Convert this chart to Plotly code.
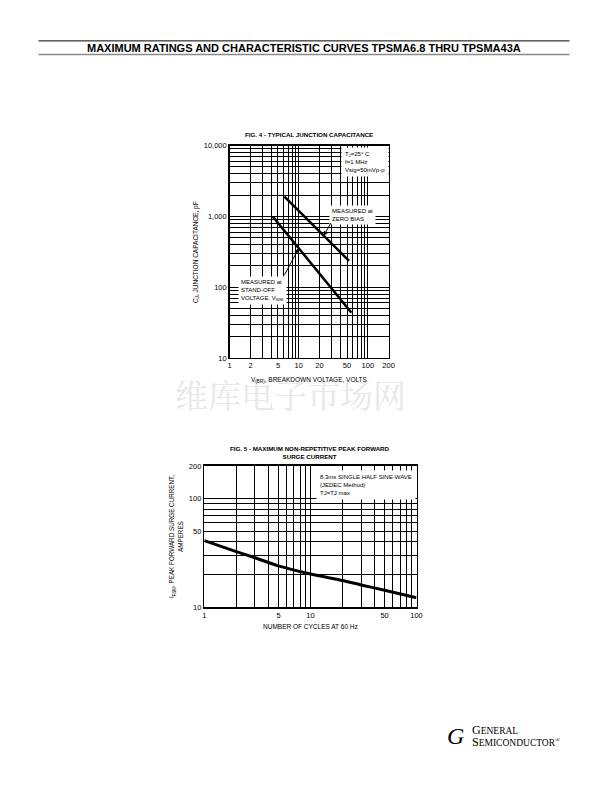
import math
import plotly.graph_objects as go

W, H = 612, 792

# ---------------- data ----------------
# Fig. 4 - typical junction capacitance (log-log)
fig4_zero_bias_v = [6.2, 53.5]
fig4_zero_bias_c = [1900, 236]
fig4_standoff_v = [4.2, 58.0]
fig4_standoff_c = [1000, 43.5]
fig4_x_ticks = [1, 2, 5, 10, 20, 50, 100, 200]
fig4_x_ticktext = ["1", "2", "5", "10", "20", "50", "100", "200"]
fig4_x_minor = [3, 4, 6, 7, 8, 9, 30, 40, 60, 70, 80, 90]
fig4_y_ticks = [10, 100, 1000, 10000]
fig4_y_ticktext = ["10", "100", "1,000", "10,000"]
fig4_y_minor = [20, 30, 40, 50, 60, 70, 80, 90,
                200, 300, 400, 500, 600, 700, 800, 900,
                2000, 3000, 4000, 5000, 6000, 7000, 8000, 9000]

# Fig. 5 - maximum non-repetitive peak forward surge current
fig5_cycles = [1, 2, 3, 5, 10, 20, 30, 50, 100]
fig5_ifsm = [41, 32.5, 28.5, 24, 20.2, 17.6, 16, 14.3, 12.2]
fig5_x_ticks = [1, 5, 10, 50, 100]
fig5_x_ticktext = ["1", "5", "10", "50", "100"]
fig5_x_minor = [2, 3, 4, 6, 7, 8, 9, 20, 30, 40, 60, 70, 80, 90]
fig5_y_ticks = [10, 50, 100, 200]
fig5_y_ticktext = ["10", "50", "100", "200"]
fig5_y_minor = [20, 30, 40, 60, 70, 80, 90]

FONT = "Liberation Sans, Arial, sans-serif"


def px(x):
    return x / W


def py(y):
    return 1 - y / H


def on_line(xs, ys, xv):
    """point on a straight log-log segment"""
    lx0, lx1 = math.log10(xs[0]), math.log10(xs[1])
    ly0, ly1 = math.log10(ys[0]), math.log10(ys[1])
    t = (math.log10(xv) - lx0) / (lx1 - lx0)
    return math.log10(xv), ly0 + t * (ly1 - ly0)


fig = go.Figure()

fig.add_trace(go.Scatter(x=fig4_zero_bias_v, y=fig4_zero_bias_c, mode="lines",
                         line=dict(color="black", width=2.5), xaxis="x", yaxis="y",
                         hoverinfo="skip"))
fig.add_trace(go.Scatter(x=fig4_standoff_v, y=fig4_standoff_c, mode="lines",
                         line=dict(color="black", width=2.5), xaxis="x", yaxis="y",
                         hoverinfo="skip"))
fig.add_trace(go.Scatter(x=fig5_cycles, y=fig5_ifsm, mode="lines",
                         line=dict(color="black", width=3, shape="spline", smoothing=0.5),
                         xaxis="x2", yaxis="y2", hoverinfo="skip"))


def log_axis(domain, anchor, rng, tickvals, ticktext, minor):
    return dict(
        domain=domain, anchor=anchor, type="log", range=rng,
        tickmode="array", tickvals=tickvals, ticktext=ticktext,
        showgrid=True, gridcolor="black", gridwidth=1,
        minor=dict(tickmode="array", tickvals=minor, showgrid=True,
                   gridcolor="black", gridwidth=1, ticks=""),
        showline=True, mirror=True, linecolor="black", linewidth=1.5,
        ticks="", zeroline=False,
        tickfont=dict(family=FONT, size=7.5, color="black"),
        fixedrange=True,
    )


# plot-area pixel extents
f4_l, f4_r, f4_t, f4_b = 230.7, 391.7, 143.3, 358.0
f5_l, f5_r, f5_t, f5_b = 205.0, 420.0, 467.3, 610.0

layout = dict(
    width=W, height=H, margin=dict(l=0, r=0, t=0, b=0),
    paper_bgcolor="white", plot_bgcolor="white", showlegend=False,
    font=dict(family=FONT, color="black"),
    xaxis=log_axis([px(f4_l), px(f4_r)], "y", [0, math.log10(200)],
                   fig4_x_ticks, fig4_x_ticktext, fig4_x_minor),
    yaxis=log_axis([py(f4_b), py(f4_t)], "x", [1, 4],
                   fig4_y_ticks, fig4_y_ticktext, fig4_y_minor),
    xaxis2=log_axis([px(f5_l), px(f5_r)], "y2", [0, 2],
                    fig5_x_ticks, fig5_x_ticktext, fig5_x_minor),
    yaxis2=log_axis([py(f5_b), py(f5_t)], "x2", [1, math.log10(200)],
                    fig5_y_ticks, fig5_y_ticktext, fig5_y_minor),
)
fig.update_layout(**layout)

ann = []


def text(x, y, s, size=6.5, bold=False, xanchor="center", yanchor="middle",
         bg=None, angle=0, align="center", family=FONT, color="black", pad=1):
    d = dict(xref="paper", yref="paper", x=px(x), y=py(y), text=(f"<b>{s}</b>" if bold else s),
             showarrow=False, xanchor=xanchor, yanchor=yanchor, textangle=angle, align=align,
             font=dict(family=family, size=size, color=color), borderpad=pad)
    if bg:
        d["bgcolor"] = bg
    ann.append(d)


# watermark (drawn first, behind the other texts)
text(292, 394, "维库电子市场网", size=33, family="Noto Serif CJK SC, Noto Sans CJK SC, serif",
     color="#e8e8e8")

# header
text(305.5, 44, "MAXIMUM RATINGS AND CHARACTERISTIC CURVES TPSMA6.8 THRU TPSMA43A",
     size=11, bold=True)

# Fig 4 texts
text(311, 132, "FIG. 4 - TYPICAL JUNCTION CAPACITANCE", size=6.2, bold=True)
text(196, 250.5, "C<sub>J</sub>, JUNCTION CAPACITANCE, pF", size=6.5, angle=-90)
text(312, 380, "V<sub>(BR)</sub>, BREAKDOWN VOLTAGE, VOLTS", size=6.5)
text(343, 145, "T<sub>J</sub>=25° C<br>f=1 MHz<br>Vsig=50mVp-p", size=6,
     xanchor="left", yanchor="top", bg="white", align="left", pad=3)
text(331, 203, "MEASURED at<br>ZERO BIAS", size=6, xanchor="left", yanchor="top",
     bg="white", align="left", pad=2)
text(239, 275, "MEASURED at<br>STAND-OFF<br>VOLTAGE, V<sub>WM</sub>", size=6,
     xanchor="left", yanchor="top", bg="white", align="left", pad=2)

# arrows pointing to the curves
zx, zy = on_line(fig4_zero_bias_v, fig4_zero_bias_c, 23)
ann.append(dict(xref="x", yref="y", x=zx, y=zy, ax=8, ay=-14, text="", showarrow=True,
                arrowhead=2, arrowsize=0.9, arrowwidth=1, arrowcolor="black"))
sx, sy = on_line(fig4_standoff_v, fig4_standoff_c, 10)
ann.append(dict(xref="x", yref="y", x=sx, y=sy, ax=-15, ay=28, text="", showarrow=True,
                arrowhead=2, arrowsize=0.9, arrowwidth=1, arrowcolor="black"))

# Fig 5 texts
text(312.5, 453.5, "FIG. 5 - MAXIMUM NON-REPETITIVE PEAK FORWARD<br>SURGE CURRENT",
     size=6.2, bold=True)
text(176, 538.5, "I<sub>FSM</sub>, PEAK FORWARD SURGE CURRENT,<br>AMPERES", size=6.3, angle=-90)
text(313, 630, "NUMBER OF CYCLES AT 60 Hz", size=6.5)
text(318, 471, "8.3ms SINGLE HALF SINE-WAVE<br>(JEDEC Method)<br>TJ=TJ max", size=6,
     xanchor="left", yanchor="top", bg="white", align="left", pad=3)

# logo
text(459, 740, "<i>G</i>", size=24, family="Liberation Serif, serif")
text(474, 740,
     "<span style='font-size:12px'>G</span>ENERAL<br>"
     "<span style='font-size:12px'>S</span>EMICONDUCTOR<sup>®</sup>",
     size=9.5, family="Liberation Serif, serif", xanchor="left", align="left")

fig.update_layout(annotations=ann)

# header rules
fig.add_shape(type="line", xref="paper", yref="paper", x0=px(37), x1=px(575),
              y0=py(37.3), y1=py(37.3), line=dict(color="black", width=1))
fig.add_shape(type="line", xref="paper", yref="paper", x0=px(37), x1=px(575),
              y0=py(51), y1=py(51), line=dict(color="#8a8a8a", width=1.5))

fig.write_html(
    "out.html",
    config={"displayModeBar": False, "staticPlot": True},
    post_script="document.body.style.margin='0';document.body.style.overflow='hidden';"
                "document.documentElement.style.overflow='hidden';",
)
